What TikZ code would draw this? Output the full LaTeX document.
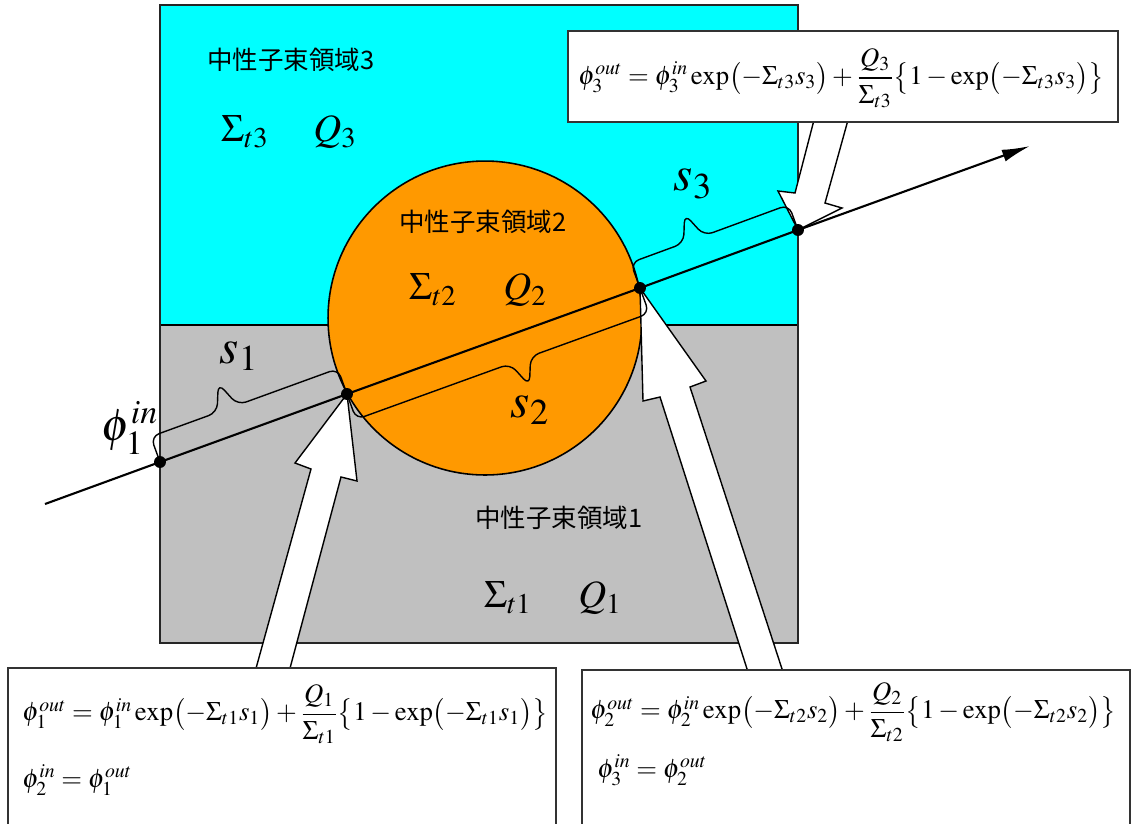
\documentclass[tikz,border=0pt]{standalone}
\usepackage{amsmath}
\usepackage{fontspec}
\usepackage{mathptmx}
\newfontfamily\cjk{Noto Sans CJK JP}
\usetikzlibrary{arrows.meta,calc}
\definecolor{reg3}{RGB}{0,255,255}
\definecolor{reg2}{RGB}{255,153,0}
\definecolor{reg1}{RGB}{192,192,192}
\newcommand{\eqsz}{\fontsize{15.2}{18}\selectfont}
\newcommand{\lblsz}{\fontsize{22}{26}\selectfont}
\newcommand{\ssz}{\fontsize{28}{32}\selectfont}
\newcommand{\namesz}{\fontsize{14.5}{17}\selectfont}
% brace from #1 to #2, tip at fraction #3, side #4 (90 or -90)
\newcommand{\sbrace}[4]{%
  \coordinate (bm) at ($(#1)!#3!(#2)$);
  \coordinate (bl) at ($(bm)!0.22cm!(#1)$);
  \coordinate (br) at ($(bm)!0.22cm!(#2)$);
  \coordinate (bs) at ($(#1)!0.54cm!#4:(#2)$);
  \coordinate (bt) at ($(#1)!1.08cm!#4:(#2)$);
  \draw[brc] (#1) -- (bs) -- ($(bl)+(bs)-(#1)$) -- ($(bm)+(bt)-(#1)$)
    -- ($(br)+(bs)-(#1)$) -- ($(#2)+(bs)-(#1)$) -- (#2);
}

\begin{document}
\begin{tikzpicture}[x=0.02cm,y=-0.02cm,every node/.style={inner sep=0pt},
  brc/.style={line width=.8pt,rounded corners=5pt},
  blk/.style={draw,fill=white,line width=.8pt,line join=miter},
  eqbox/.style={draw=black!80,fill=white,line width=1pt}]
\useasboundingbox (0,0) rectangle (1132,823);
\clip (0,0) rectangle (1132,823);
% regions
\fill[reg3] (160,5) rectangle (798,325);
\fill[reg1] (160,325) rectangle (798,643);
\draw[line width=.7pt] (160,325) -- (798,325);
\draw[line width=.9pt,black!85] (160,5) rectangle (798,643);
\draw[fill=reg2,line width=.9pt] (485,318) circle[radius=3.14cm];
% path points
\coordinate (a) at (45,504);
\coordinate (p0) at (160,462);
\coordinate (p1) at (347,394);
\coordinate (p2) at (640,288);
\coordinate (p3) at (798,230);
\coordinate (b) at (1030,146);
% block arrows
\draw[blk] (255,672) -- (311,469) -- (295,463) -- (p1) -- (357,481) -- (341,477) -- (289,672) -- cycle;
\draw[blk] (748,672) -- (660,397) -- (643,401) -- (p2) -- (706,381) -- (690,387) -- (783,672) -- cycle;
\draw[blk] (814,120) -- (795,193) -- (778,191) -- (p3) -- (842,208) -- (825,203) -- (848,120) -- cycle;
% boxes
\draw[eqbox] (568,31) rectangle (1118,122);
\draw[eqbox] (8,668) rectangle (556,840);
\draw[eqbox] (582,670) rectangle (1130,840);
% neutron path
\draw[line width=1.2pt,-{Latex[length=16pt,width=7pt]}] (a) -- (p0) -- (p1) -- (p2) -- (p3) -- (b);
\sbrace{p0}{p1}{0.41}{90}
\sbrace{p1}{p2}{0.56}{-90}
\sbrace{p2}{p3}{0.40}{90}
\foreach \p in {p0,p1,p2,p3} \fill (\p) circle (3.4pt);
% labels
\node (s1) at (239,356) {\ssz$s_1$};
\node (s2) at (530,410) {\ssz$s_2$};
\node (s3) at (693,184) {\ssz$s_3$};
\node (phin) at (130,428) {\fontsize{26}{30}\selectfont$\phi_1^{in}$};
\node (n3) at (291,60) {\namesz\cjk 中性子束領域3};
\node (sig3) at (245,132) {\lblsz$\Sigma_{t3}$};
\node (q3) at (335,132) {\lblsz$Q_3$};
\node (n2) at (483,222) {\namesz\cjk 中性子束領域2};
\node (sig2) at (433,290) {\lblsz$\Sigma_{t2}$};
\node (q2) at (525,290) {\lblsz$Q_2$};
\node (n1) at (559,518) {\namesz\cjk 中性子束領域1};
\node (sig1) at (508,598) {\lblsz$\Sigma_{t1}$};
\node (q1) at (600,598) {\lblsz$Q_1$};
% equations
\node[anchor=west] (eq3) at (578,78) {\eqsz$\phi_3^{out}=\phi_3^{in}\exp\bigl(-\Sigma_{t3}s_3\bigr)+\dfrac{Q_3}{\Sigma_{t3}}\bigl\{1-\exp\bigl(-\Sigma_{t3}s_3\bigr)\bigr\}$};
\node[anchor=west] (eq1) at (22,714) {\eqsz$\phi_1^{out}=\phi_1^{in}\exp\bigl(-\Sigma_{t1}s_1\bigr)+\dfrac{Q_1}{\Sigma_{t1}}\bigl\{1-\exp\bigl(-\Sigma_{t1}s_1\bigr)\bigr\}$};
\node[anchor=west] (eq1b) at (22,780) {\eqsz$\phi_2^{in}=\phi_1^{out}$};
\node[anchor=west] (eq2) at (590,712) {\eqsz$\phi_2^{out}=\phi_2^{in}\exp\bigl(-\Sigma_{t2}s_2\bigr)+\dfrac{Q_2}{\Sigma_{t2}}\bigl\{1-\exp\bigl(-\Sigma_{t2}s_2\bigr)\bigr\}$};
\node[anchor=west] (eq2b) at (597,770) {\eqsz$\phi_3^{in}=\phi_2^{out}$};
\end{tikzpicture}
\end{document}
